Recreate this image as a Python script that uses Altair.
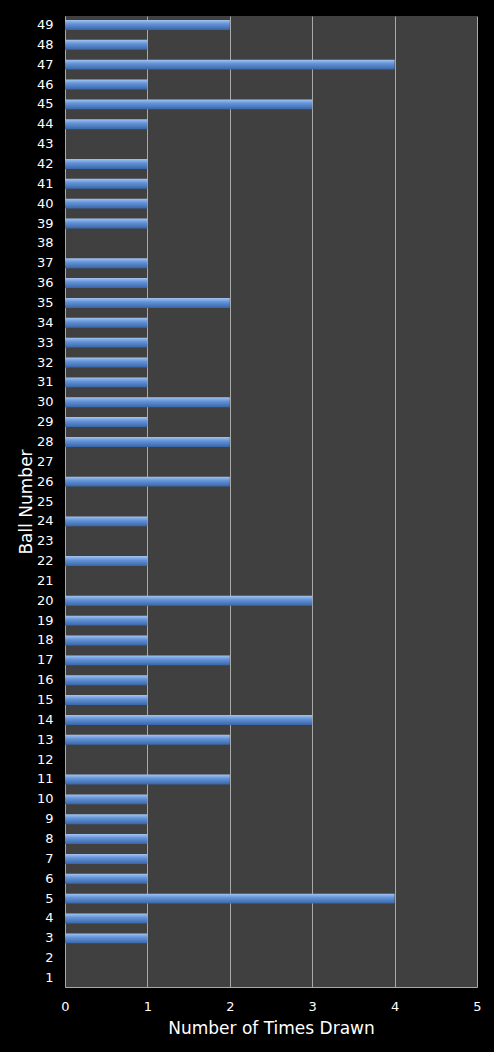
import pandas as pd
import altair as alt
import altair.utils.html as alt_html

balls = list(range(1, 50))
times_drawn = [0, 0, 1, 1, 4, 1, 1, 1, 1, 1,
               2, 0, 2, 3, 1, 1, 2, 1, 1, 3,
               0, 1, 0, 1, 0, 2, 0, 2, 1, 2,
               1, 1, 1, 1, 2, 1, 1, 0, 1, 1,
               1, 1, 0, 1, 3, 1, 4, 1, 2]
x_ticks = [0, 1, 2, 3, 4, 5]

df = pd.DataFrame({"Ball": balls, "Times": times_drawn})


# the page around the chart is black as well
class BlackPage:
    def __init__(self, tpl):
        self.tpl = tpl

    def render(self, **kw):
        html = self.tpl.render(**kw)
        return html.replace("<head>", "<head><style>html, body {background: #000;}</style>", 1)


_std = alt_html.TEMPLATES["standard"]
alt_html.TEMPLATES["standard"] = BlackPage(_std)

bar_fill = alt.Gradient(
    gradient="linear",
    stops=[
        alt.GradientStop(color="#a3c4f0", offset=0),
        alt.GradientStop(color="#6393d8", offset=0.4),
        alt.GradientStop(color="#3a66a8", offset=1),
    ],
    x1=0, x2=0, y1=0, y2=1,
)

chart = alt.Chart(df).mark_bar(color=bar_fill).encode(
    x=alt.X("Times:Q", title="Number of Times Drawn",
            scale=alt.Scale(domain=[0, 5], nice=False),
            axis=alt.Axis(values=x_ticks, format="d", gridColor="#a9a9a9",
                          gridWidth=1, ticks=False, labelPadding=13,
                          labelFlush=False, titlePadding=7,
                          domainColor="#a9a9a9")),
    y=alt.Y("Ball:O", title="Ball Number", sort="descending",
            scale=alt.Scale(paddingInner=0.5, paddingOuter=0.2),
            axis=alt.Axis(ticks=False, labelPadding=12, titlePadding=1,
                          domainColor="#a9a9a9")),
).properties(
    width=412,
    height=971,
    autosize=alt.AutoSizeParams(type="none"),
    padding={"left": 57, "top": 8, "right": 9, "bottom": 56},
    background="black",
).configure_view(
    fill="#404040",
    strokeWidth=0,
).configure_axis(
    labelColor="white",
    titleColor="white",
    labelFont="DejaVu Sans",
    titleFont="DejaVu Sans",
    labelFontSize=13,
    titleFontSize=17,
    titleFontWeight="normal",
)

try:
    chart.save("out.html", embed_options={"renderer": "svg", "actions": False})
except Exception:
    alt_html.TEMPLATES["standard"] = _std
    chart.save("out.html", embed_options={"renderer": "svg", "actions": False})
